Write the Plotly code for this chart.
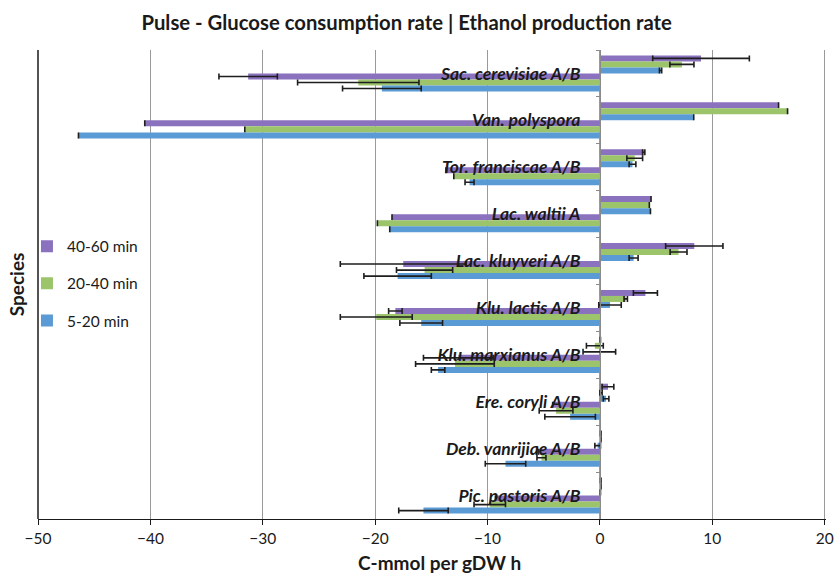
import plotly.graph_objects as go

species = ["Sac. cerevisiae A/B", "Van. polyspora", "Tor. franciscae A/B", "Lac. waltii A",
           "Lac. kluyveri A/B", "Klu. lactis A/B", "Klu. marxianus A/B", "Ere. coryli A/B",
           "Deb. vanrijiae A/B", "Pic. pastoris A/B"]

series_names = ["40-60 min", "20-40 min", "5-20 min"]

# Ethanol production rate (positive)
eth_40_60 = [9.0, 15.9, 3.9, 4.55, 8.4, 4.05, 0.05, 0.72, 0.1, 0.1]
eth_40_60_err = [4.3, None, 0.1, None, 2.55, 1.07, None, 0.52, None, None]
eth_20_40 = [7.3, 16.7, 3.1, 4.4, 7.0, 2.3, -0.45, 0.1, 0.1, 0.1]
eth_20_40_err = [1.07, None, 0.7, None, 0.75, 0.15, 0.75, 0.1, None, None]
eth_5_20 = [5.4, 8.35, 2.9, 4.5, 3.0, 0.9, -0.05, 0.55, -0.2, 0.05]
eth_5_20_err = [0.1, None, 0.3, None, 0.4, 1.0, 1.45, 0.25, 0.25, None]

# Glucose consumption rate (negative)
glc_40_60 = [-31.3, -40.5, -13.7, -18.5, -17.5, -18.2, -12.6, -4.2, -5.5, -9.3]
glc_40_60_err = [2.6, None, None, None, 5.6, 0.6, 3.1, None, None, None]
glc_20_40 = [-21.5, -31.6, -13.0, -19.8, -15.6, -19.9, -12.9, -3.9, -5.2, -9.8]
glc_20_40_err = [5.4, None, None, None, 2.5, 3.2, 3.5, 1.5, 0.4, 1.4]
glc_5_20 = [-19.4, -46.4, -11.6, -18.7, -18.0, -15.9, -14.4, -2.65, -8.4, -15.7]
glc_5_20_err = [3.5, None, 0.4, None, 3.0, 1.9, 0.6, 2.25, 1.8, 2.2]

colors = ["#8B72BF", "#9CC46A", "#5B9BD5"]
x_range = [-50, 20.12]

FONT = "Lato"

fig = go.Figure()

eth = [(eth_40_60, eth_40_60_err), (eth_20_40, eth_20_40_err), (eth_5_20, eth_5_20_err)]
glc = [(glc_40_60, glc_40_60_err), (glc_20_40, glc_20_40_err), (glc_5_20, glc_5_20_err)]

def add(vals, errs, i, show):
    fig.add_trace(go.Bar(
        y=species, x=vals, orientation="h", name=series_names[i],
        marker=dict(color=colors[i], line=dict(width=0)),
        legendgroup=series_names[i], showlegend=show,
        error_x=dict(type="data", array=errs, visible=True, color="#1e1e1e",
                     thickness=1.6, width=3),
    ))

for i, (v, e) in enumerate(eth):
    add(v, e, i, True)
for i, (v, e) in enumerate(glc):
    add(v, e, i, False)

fig.update_layout(
    width=835, height=576,
    margin=dict(l=38, r=9, t=50, b=57),
    paper_bgcolor="white", plot_bgcolor="white",
    barmode="group", bargap=0.23, bargroupgap=0,
    font=dict(family=FONT, color="#1a1a1a"),
    title=dict(text="<b>Pulse - Glucose consumption rate | Ethanol production rate</b>",
               x=0.487, xanchor="center", y=1 - 23 / 576, yanchor="middle",
               font=dict(family=FONT, size=20.3, color="#1a1a1a")),
    legend=dict(x=-0.014, y=0.617, xanchor="left", yanchor="top",
                font=dict(family=FONT, size=15.5, color="#1a1a1a"),
                tracegroupgap=14, bgcolor="rgba(0,0,0,0)"),
    xaxis=dict(range=x_range, dtick=10, tick0=0, showgrid=True, gridcolor="#9a9a9a",
               gridwidth=1, zeroline=False, showline=True, linecolor="#1a1a1a",
               linewidth=1.2, ticks="outside", ticklen=5, tickcolor="#1a1a1a",
               ticklabeloverflow="allow", automargin=False,
               tickfont=dict(family=FONT, size=15.5, color="#1a1a1a")),
    yaxis=dict(type="category", categoryorder="array", categoryarray=species,
               autorange="reversed", anchor="free", automargin=False,
               position=(0 - x_range[0]) / (x_range[1] - x_range[0]),
               side="left", showline=True, linecolor="#8a8a8a", linewidth=1,
               ticks="outside", ticklen=4, tickcolor="#8a8a8a", tickson="boundaries",
               showgrid=False, ticklabelstandoff=16,
               tickfont=dict(family=FONT, size=17.5, weight="bold", style="italic",
                             color="#1a1a1a")),
    shapes=[dict(type="line", xref="x domain", yref="y domain", x0=0, x1=0, y0=0, y1=1,
                 line=dict(color="#1a1a1a", width=1.5))],
    annotations=[
        dict(text="<b>Species</b>", xref="paper", yref="paper",
             x=-0.027, y=0.5, textangle=-90, showarrow=False,
             xanchor="center", yanchor="middle",
             font=dict(family=FONT, size=19, color="#1a1a1a")),
        dict(text="<b>C-mmol per gDW h</b>", xref="paper", yref="paper",
             x=(439 - 38) / 788, y=(519 - 562) / 469, showarrow=False,
             xanchor="center", yanchor="middle",
             font=dict(family=FONT, size=19, color="#1a1a1a")),
    ],
)

fig.write_html("out.html")
